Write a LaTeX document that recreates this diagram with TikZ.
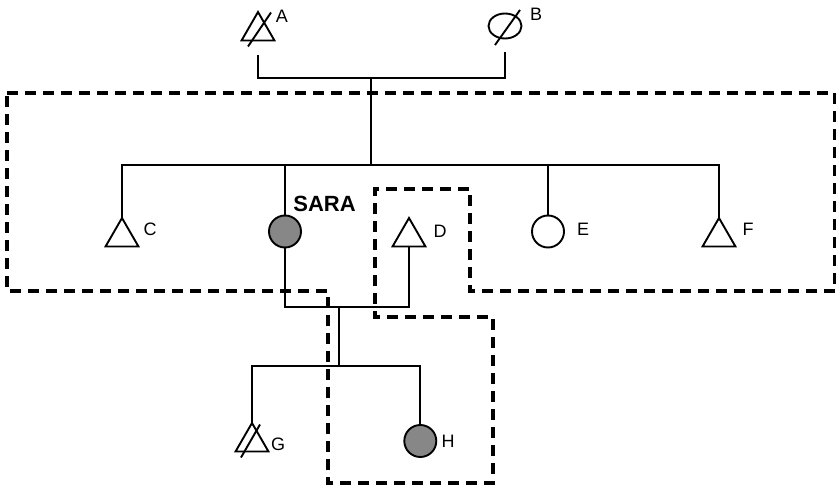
\documentclass[tikz,border=0pt]{standalone}
\usepackage{fontspec}
\setmainfont{Liberation Sans}
\usetikzlibrary{shapes.geometric}
\begin{document}
\begin{tikzpicture}[x=1pt,y=-1pt,
  link/.style={line width=1.9pt},
  tri/.style={draw, line width=1.9pt, regular polygon, regular polygon sides=3,
    minimum size=38pt, inner sep=0pt, outer sep=0pt, anchor=corner 1},
  circ/.style={draw, line width=1.9pt, circle, minimum size=32pt, inner sep=0pt, outer sep=0pt},
  affected/.style={circ, fill=black!47},
  lbl/.style={font=\fontsize{18}{21}\selectfont, inner sep=0pt},
  boundary/.style={line width=4pt, dash pattern=on 11pt off 7pt}
]
\useasboundingbox (0,0) rectangle (836,489);
\fill[white] (0,0) rectangle (836,489);

% dashed boundary
\draw[boundary] (7,93) -- (835,93) -- (835,291) -- (470,291) -- (470,189)
  -- (375,189) -- (375,317) -- (493,317) -- (493,483) -- (328,483)
  -- (328,291) -- (7,291) -- cycle;

% generation I
\node[tri] (A) at (258,12) {};
\node[circ, ellipse, minimum width=33pt, minimum height=25pt] (B) at (505,26) {};
\draw[link] ([shift={(-10,6)}]A.south) -- ([shift={(13,-28)}]A.south);
\draw[link] ([shift={(-10,19)}]B.center) -- ([shift={(15,-16)}]B.center);
\node[lbl] (lA) at (282,16) {A};
\node[lbl] (lB) at (536,14) {B};

\coordinate (m1) at (371,78);
\coordinate (sib1) at (371,165);
\draw[link] ([yshift=-15pt]A.south) |- (m1) -| ([yshift=-14pt]B.south);
\draw[link] (m1) -- (sib1);

% generation II
\node[tri] (C) at (122,218) {};
\node[affected] (SARA) at (285,231.5) {};
\node[tri] (D) at (409,218) {};
\node[circ] (E) at (548,231.5) {};
\node[tri] (F) at (719,218) {};
\node[lbl] (lC) at (150,229) {C};
\node[lbl] (lD) at (440,231) {D};
\node[lbl] (lE) at (583,229) {E};
\node[lbl] (lF) at (748,229) {F};
\node[inner sep=0pt, font=\fontsize{22}{25}\selectfont\bfseries] (lSARA) at (324.5,203.5) {SARA};

\draw[link] (C.north) |- (sib1) -| (F.north);
\draw[link] (SARA.north) -- (SARA.north |- sib1);
\draw[link] (E.north) -- (E.north |- sib1);

\coordinate (m2) at (339,307);
\coordinate (sib2) at (339,366);
\draw[link] (SARA.south) |- (m2) -| (D.south);
\draw[link] (m2) -- (sib2);

% generation III
\node[tri] (G) at (252,423) {};
\node[affected] (H) at (420.3,441) {};
\draw[link] ([shift={(-11,6)}]G.south) -- ([shift={(8,-27)}]G.south);
\node[lbl] (lG) at (278,444) {G};
\node[lbl] (lH) at (448,441) {H};
\draw[link] (G.north) |- (sib2) -| (H.north);
\end{tikzpicture}
\end{document}
